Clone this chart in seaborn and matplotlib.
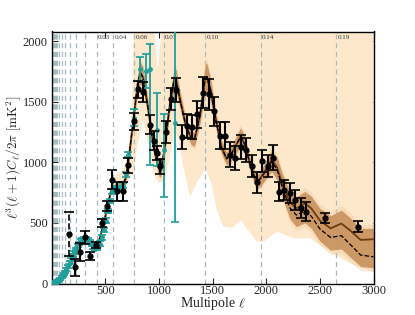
import numpy as np
import matplotlib
matplotlib.use("Agg")
import matplotlib.pyplot as plt
import seaborn as sns

# best-fit model (solid), offset of the dashed model below it, and dark band half width
ell_model = [0, 50, 100, 150, 200, 250, 300, 330, 370, 410, 450, 500, 550, 600, 650, 690, 720, 760,
             800, 825, 850, 900, 950, 1000, 1015, 1050, 1100, 1140, 1160, 1200, 1250, 1300, 1330, 1380,
             1430, 1445, 1480, 1530, 1580, 1630, 1680, 1760, 1800, 1850, 1910, 1960, 2050, 2100, 2150,
             2220, 2280, 2360, 2420, 2500, 2600, 2700, 2780, 2880, 3000]
cl_model = [0, 8, 45, 125, 215, 300, 355, 362, 335, 300, 380, 560, 760, 810, 800, 870, 1050, 1350,
            1650, 1740, 1700, 1430, 1120, 940, 930, 1100, 1480, 1680, 1670, 1500, 1300, 1200, 1190, 1380,
            1690, 1700, 1600, 1350, 1130, 1030, 1080, 1210, 1150, 980, 830, 890, 1020, 960, 820,
            670, 620, 660, 620, 520, 455, 495, 440, 360, 365]
dash_offset = [0, 0, 0, 0, 0, 0, 0, 0, 0, 0, 0, 0, 0, 0, 0, 0, 0, 0,
               0, 0, 0, 0, 0, 0, 0, 0, 0, 0, 0, 0, 0, 0, 0, 0,
               0, 0, 0, 0, 0, 0, 0, 0, 0, 0, 5, 10, 15, 20, 30,
               45, 55, 60, 65, 70, 75, 100, 115, 125, 145]
band_width = [0, 2, 5, 8, 10, 12, 14, 15, 15, 15, 16, 18, 22, 24, 26, 28, 32, 45,
              70, 90, 85, 60, 55, 55, 55, 55, 60, 95, 95, 65, 55, 55, 60, 70,
              115, 120, 95, 65, 55, 55, 60, 75, 65, 55, 55, 60, 80, 85, 85,
              90, 95, 100, 100, 100, 105, 110, 105, 95, 90]

# wide light band: upper and lower edges
ell_light_hi = [0, 50, 100, 150, 200, 250, 300, 330, 370, 410, 450, 500, 550, 600, 650, 690, 720,
                745, 770, 935, 988, 1045, 3000]
light_hi = [0, 12, 55, 140, 240, 330, 390, 400, 370, 335, 410, 600, 820, 900, 930, 1000, 1150,
            1420, 2300, 2300, 1768, 2300, 2300]
ell_light_lo = [0, 50, 100, 150, 200, 250, 300, 330, 370, 410, 450, 500, 550, 600, 650, 690, 720,
                760, 800, 850, 900, 950, 1000, 1050, 1100, 1140, 1180, 1230, 1290, 1350, 1430, 1490,
                1540, 1600, 1680, 1760, 1850, 1913, 1975, 2100, 2180, 2255, 2411, 2567, 2723, 2850, 3000]
light_lo = [0, 3, 35, 110, 195, 275, 330, 340, 315, 280, 340, 520, 720, 780, 770, 790, 860,
            900, 1150, 1350, 1150, 900, 830, 850, 1050, 1250, 1200, 950, 715, 830, 950, 820,
            600, 470, 460, 520, 420, 345, 345, 428, 400, 373, 373, 276, 193, 140, 96]

# teal data set
teal_ell = [10, 20, 30, 40, 50, 60, 70, 80, 90, 100, 110, 120, 135, 150, 165, 180, 195, 210, 225,
            240, 255, 270, 285, 300, 318, 335, 352, 370, 388, 405, 425, 445, 465, 485, 505, 525,
            545, 565, 585, 605, 625, 645, 665, 690, 714, 770, 822, 879, 916, 978, 1047, 1150]
teal_cl = [2, 4, 7, 10, 14, 20, 28, 38, 50, 62, 78, 95, 118, 142, 170, 198, 228, 258, 285,
           310, 333, 352, 366, 373, 372, 362, 345, 322, 300, 288, 298, 330, 380, 440, 520, 600,
           680, 760, 790, 790, 785, 790, 810, 900, 1064, 1368, 1768, 1754, 1768, 1271, 1105, 1326]
teal_err_lo = [8] * 12 + [12] * 18 + [18] * 14 + [20, 70, 100, 140, 790, 300, 390, 815]
teal_err_hi = [8] * 12 + [12] * 18 + [18] * 14 + [20, 70, 100, 140, 210, 300, 290, 815]

# black data set
blk_ell = [162, 215, 262, 310, 360, 414, 464, 511, 558, 604, 660, 714, 770, 807, 854, 916, 948,
           978, 1010, 1060, 1110, 1160, 1210, 1260, 1310, 1358, 1414, 1461, 1514, 1564, 1611,
           1664, 1710, 1763, 1813, 1866, 1913, 1963, 2012, 2062, 2115, 2165, 2218, 2271, 2324,
           2374, 2551, 2854]
blk_cl = [410, 133, 262, 380, 228, 318, 500, 640, 856, 760, 760, 975, 1340, 1602, 1580, 1312, 1180,
          1078, 967, 1250, 1520, 1600, 1210, 1300, 1290, 1395, 1575, 1561, 1423, 1221, 1221,
          1064, 1036, 1127, 1105, 967, 834, 1008, 967, 1040, 759, 773, 746, 690, 622,
          594, 539, 469]
blk_err = [180, 73, 76, 50, 35, 25, 30, 40, 80, 80, 80, 60, 70, 70, 80, 80, 80,
           60, 60, 90, 90, 100, 100, 100, 100, 110, 130, 130, 120, 110, 110,
           100, 100, 100, 100, 90, 90, 90, 90, 100, 80, 80, 80, 80, 80,
           80, 40, 45]

# reference scale lines and their labels
k_ell = [2650, 1950, 1430, 1045, 770, 570, 420, 308, 226, 166, 122, 90, 66, 48, 35, 26, 19, 14,
         10, 7, 5, 4, 3]
k_lab = {420: "0.03", 570: "0.04", 770: "0.06", 1045: "0.07", 1430: "0.10", 1950: "0.14",
         2650: "0.19"}

teal = "#1f9e9c"
light = "#fde8cc"
dark = "#c8915c"
mid = "#eec69a"
brown = "#6b3a10"

sns.set_style("ticks")
plt.rcParams["font.family"] = ["Liberation Serif", "DejaVu Serif"]
plt.rcParams["mathtext.fontset"] = "cm"

fig, ax = plt.subplots(figsize=(4.15, 3.15), dpi=100)
fig.subplots_adjust(left=0.125, right=0.9, bottom=0.1, top=0.9)

em = np.array(ell_model, float)
cm = np.array(cl_model, float)
cd = cm - np.array(dash_offset)
w = np.array(band_width, float)

ax.fill(np.r_[ell_light_hi, ell_light_lo[::-1]], np.r_[light_hi, light_lo[::-1]],
        color=light, lw=0, zorder=1)
for l in k_ell:
    ax.axvline(l, color="#a7bcc1", lw=0.9, ls=(0, (4, 3)), zorder=1.5)
    if l in k_lab:
        ax.text(l + 12, 2030, k_lab[l], fontsize=5, va="center", ha="left", color="#333333")
ax.fill_between(em, cm + 1.35 * w, cd - 1.35 * w, color=mid, alpha=0.35, lw=0, zorder=2)
ax.fill_between(em, cm + w, cd - w, color=dark, lw=0, alpha=0.9, zorder=2.2)

sns.lineplot(x=em, y=cm, color=brown, lw=1.3, ax=ax, zorder=3)
sns.lineplot(x=em, y=cd, color="black", lw=0.9, ls="--", ax=ax, zorder=3.1)

ax.errorbar(teal_ell, teal_cl, yerr=[teal_err_lo, teal_err_hi], fmt="o", color=teal, ms=2.5,
            capsize=3, elinewidth=1.3, capthick=1.2, zorder=4)
eb = ax.errorbar(blk_ell[:1], blk_cl[:1], yerr=blk_err[:1], fmt="o", color="black", ms=3.5,
                 capsize=3.5, elinewidth=1.2, capthick=1.2, zorder=5)
eb[2][0].set_linestyle("--")
ax.errorbar(blk_ell[1:], blk_cl[1:], yerr=blk_err[1:], fmt="o", color="black", ms=3.5,
            capsize=3.5, elinewidth=1.5, capthick=1.2, zorder=5)

ax.set_xlim(0, 3000)
ax.set_ylim(0, 2080)
ax.set_xticks([500, 1000, 1500, 2000, 2500, 3000])
ax.set_yticks([0, 500, 1000, 1500, 2000])
ax.tick_params(direction="in", top=True, right=True, length=4, width=0.8, labelsize=9)
ax.tick_params(axis="x", pad=1)
ax.tick_params(axis="y", pad=3)
for s in ax.spines.values():
    s.set_linewidth(1.0)
    s.set_color("black")
ax.set_xlabel(r"Multipole $\ell$", fontsize=10, labelpad=-1)
ax.set_ylabel(r"$\ell^3(\ell+1)C_\ell/2\pi\ [\mathrm{mK}^2]$", fontsize=9.5, labelpad=0)

fig.savefig("out.png", dpi=100)
